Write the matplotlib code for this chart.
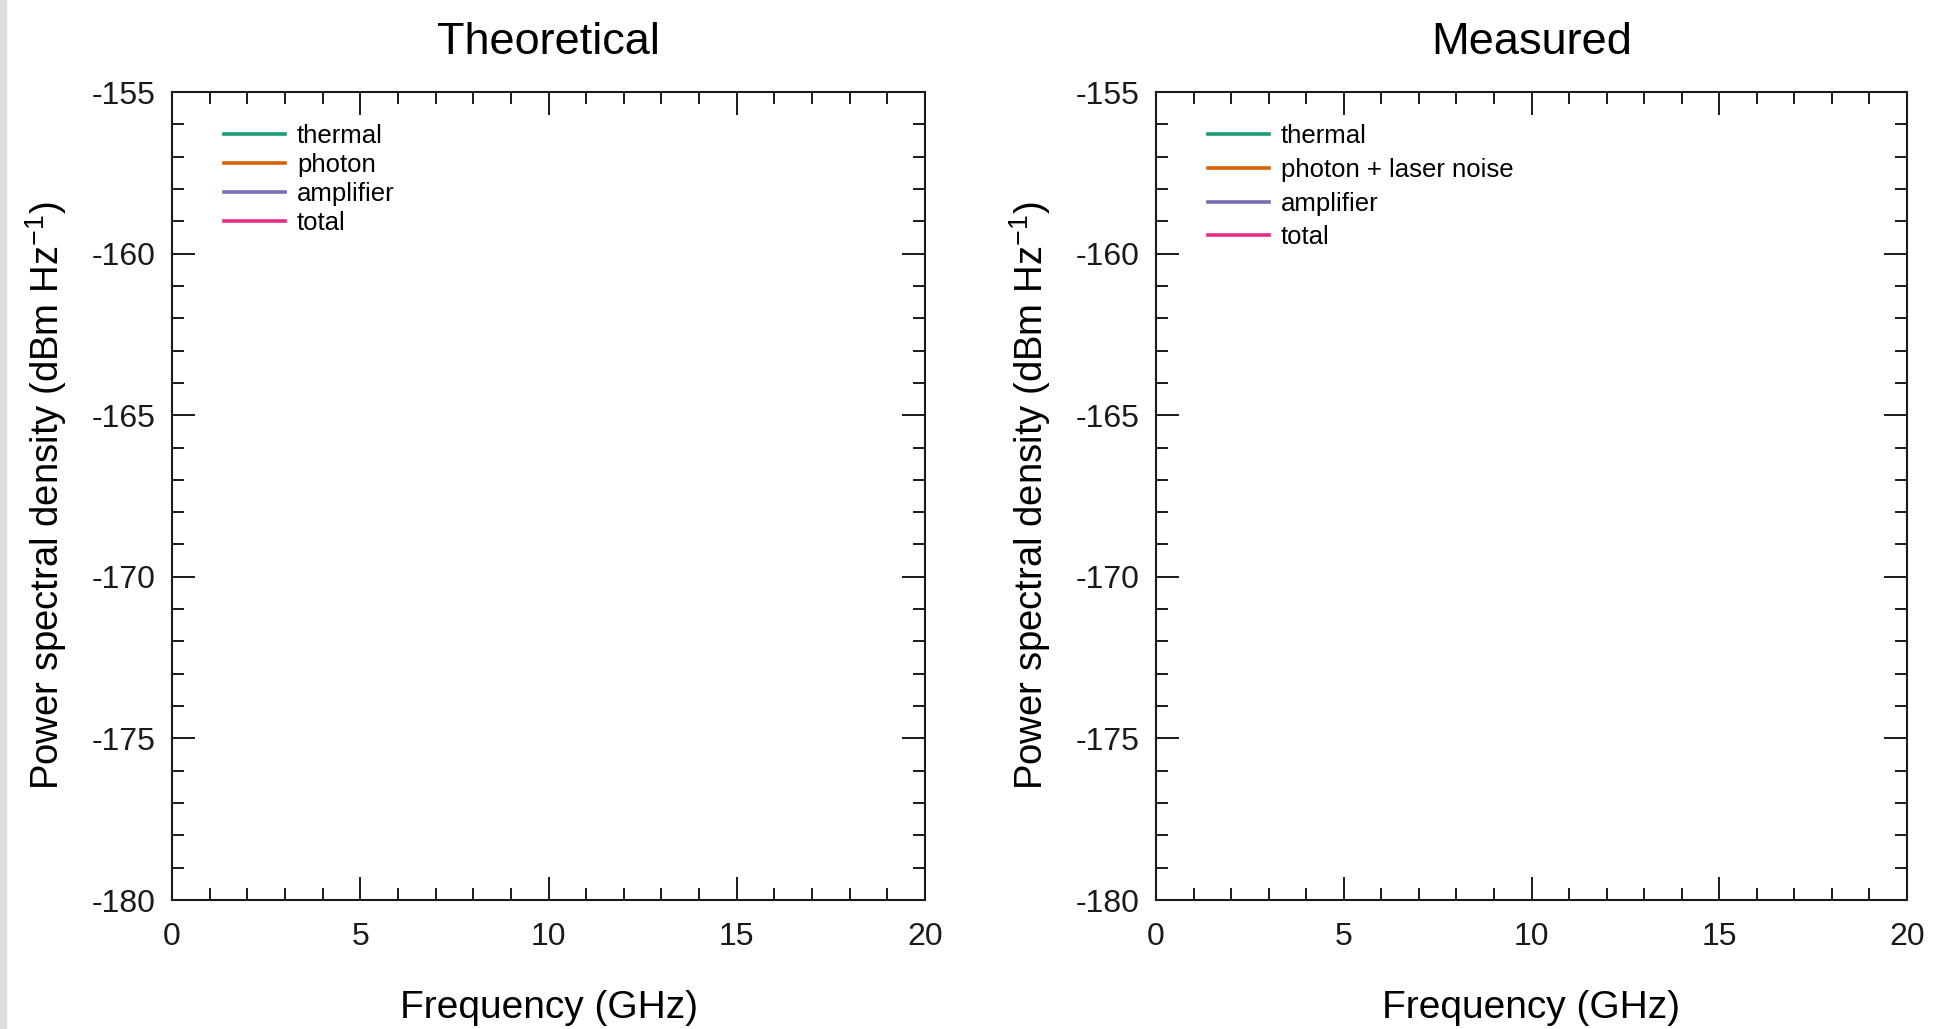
import matplotlib.pyplot as plt
from matplotlib.patches import Rectangle
from matplotlib.ticker import MultipleLocator

plt.rcParams['font.family'] = ['Liberation Sans', 'DejaVu Sans']
plt.rcParams['axes.unicode_minus'] = False

# noise contributions, one list per panel
panel_titles = ['Theoretical', 'Measured']
theory_labels = ['thermal', 'photon', 'amplifier', 'total']
measured_labels = ['thermal', 'photon + laser noise', 'amplifier', 'total']
series_colors = ['#1b9e77', '#d95f02', '#7570b3', '#e7298a']

# frequency (GHz) and PSD (dBm/Hz) traces; no curves drawn inside the frame
theory_freq = [[], [], [], []]
theory_psd = [[], [], [], []]
measured_freq = [[], [], [], []]
measured_psd = [[], [], [], []]

x_range = (0, 20)
y_range = (-180, -155)

fig = plt.figure(figsize=(19.59, 10.29), dpi=100)
fig.patches.append(Rectangle((0, 0), 6 / 1959, 1, transform=fig.transFigure,
                             color='#dedede', zorder=-1))

ax_left = fig.add_axes([172 / 1959, 1 - 900 / 1029, 753 / 1959, 808 / 1029])
ax_right = fig.add_axes([1156 / 1959, 1 - 900 / 1029, 751 / 1959, 808 / 1029])

panels = [
    (ax_left, theory_freq, theory_psd, theory_labels, 0.19),
    (ax_right, measured_freq, measured_psd, measured_labels, 0.38),
]

for i, (ax, freqs, psds, labels, spacing) in enumerate(panels):
    for f, p, lab, col in zip(freqs, psds, labels, series_colors):
        ax.plot(f, p, color=col, lw=2.6, label=lab)

    ax.set_xlim(*x_range)
    ax.set_ylim(*y_range)
    ax.xaxis.set_major_locator(MultipleLocator(5))
    ax.xaxis.set_minor_locator(MultipleLocator(1))
    ax.yaxis.set_major_locator(MultipleLocator(5))
    ax.yaxis.set_minor_locator(MultipleLocator(1))
    ax.tick_params(which='both', direction='in', top=True, right=True,
                   width=1.4, colors='#1a1a1a')
    ax.tick_params(which='major', length=16.5, labelsize=23)
    ax.tick_params(which='minor', length=8.5)
    ax.tick_params(axis='x', which='major', pad=16)
    ax.tick_params(axis='y', which='major', pad=12)
    for s in ax.spines.values():
        s.set_linewidth(1.5)
        s.set_color('#1a1a1a')

    ax.set_title(panel_titles[i], fontsize=32.5, pad=27.5)
    ax.set_xlabel('Frequency (GHz)', fontsize=28, labelpad=27)
    ax.set_ylabel('Power spectral density (dBm Hz$^{\\mathregular{-1}}$)',
                  fontsize=27.5, labelpad=16)

    ax.legend(loc='upper left', bbox_to_anchor=(0.055, 0.973), frameon=False,
              fontsize=18.5, handlelength=2.4, handletextpad=0.45,
              labelspacing=spacing, borderaxespad=0)

fig.savefig('out.png', dpi=100)
